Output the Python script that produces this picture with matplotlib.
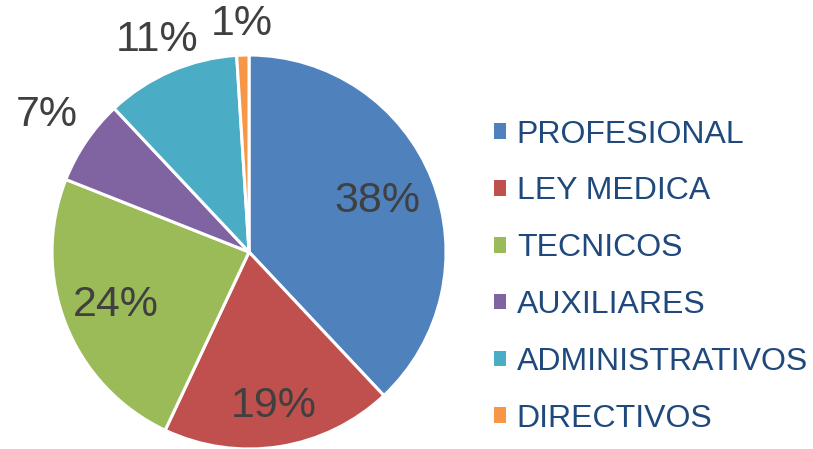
import numpy as np
import matplotlib.pyplot as plt
from matplotlib.patches import Patch

categories = ["PROFESIONAL", "LEY MEDICA", "TECNICOS", "AUXILIARES", "ADMINISTRATIVOS", "DIRECTIVOS"]
values = [38, 19, 24, 7, 11, 1]
pct_labels = ["38%", "19%", "24%", "7%", "11%", "1%"]

colors = ["#4F81BD", "#C0504D", "#9BBB59", "#8064A2", "#4BACC6", "#F79646"]
label_dist = [0.70, 0.79, 0.73, 1.24, 1.17, 1.16]

plt.rcParams['font.family'] = ['Liberation Sans', 'DejaVu Sans']

fig = plt.figure(figsize=(8.13, 4.49), dpi=100)
ax = fig.add_axes([0.0640, 0.0, 0.4846, 0.8775])

wedges, _ = ax.pie(values, colors=colors, startangle=90, counterclock=False, radius=1,
                   wedgeprops=dict(edgecolor="white", linewidth=2.2))

for w, lab, d in zip(wedges, pct_labels, label_dist):
    ang = np.deg2rad((w.theta1 + w.theta2) / 2)
    ax.text(d * np.cos(ang), d * np.sin(ang), lab, ha="center", va="center",
            fontsize=31, color="#404040")

ax.set_xlim(-1, 1)
ax.set_ylim(-1, 1)
ax.set_aspect("equal")
ax.axis("off")

handles = [Patch(facecolor=c, edgecolor="none") for c in colors]
leg = fig.legend(handles, categories, loc="center left", bbox_to_anchor=(494 / 813, 0.384),
                 frameon=False, fontsize=23, handlelength=0.375, handleheight=0.375,
                 handletextpad=0.34, labelspacing=0.84, borderpad=0, borderaxespad=0)
for t in leg.get_texts():
    t.set_color("#1F497D")

fig.savefig("out.png", dpi=100)
